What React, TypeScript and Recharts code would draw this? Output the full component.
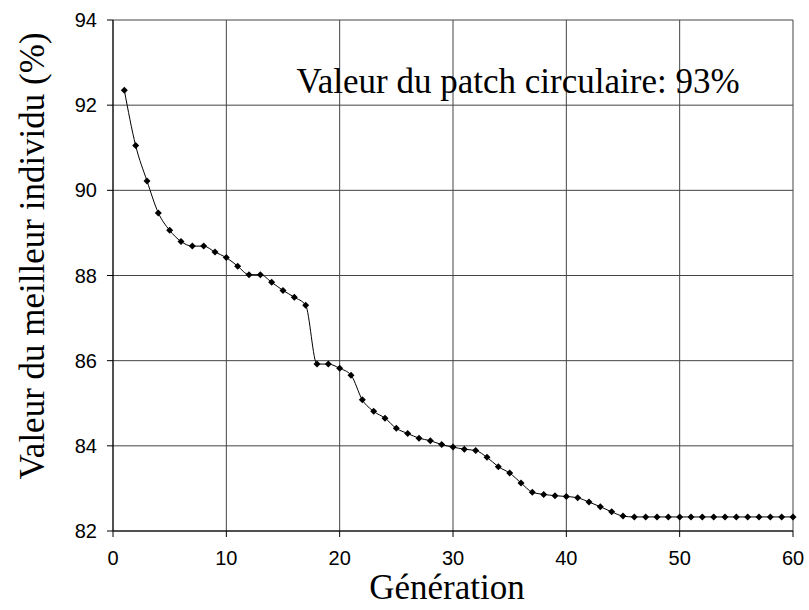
import { LineChart, Line, XAxis, YAxis, CartesianGrid, Label, Customized } from "recharts";

const generations = [
  1, 2, 3, 4, 5, 6, 7, 8, 9, 10, 11, 12, 13, 14, 15, 16, 17, 18, 19, 20,
  21, 22, 23, 24, 25, 26, 27, 28, 29, 30, 31, 32, 33, 34, 35, 36, 37, 38, 39, 40,
  41, 42, 43, 44, 45, 46, 47, 48, 49, 50, 51, 52, 53, 54, 55, 56, 57, 58, 59, 60,
];

const bestValues = [
  92.35, 91.05, 90.22, 89.47, 89.06, 88.8, 88.69, 88.69, 88.55, 88.42,
  88.22, 88.02, 88.02, 87.84, 87.65, 87.49, 87.3, 85.92, 85.92, 85.82,
  85.66, 85.08, 84.81, 84.65, 84.41, 84.29, 84.18, 84.12, 84.03, 83.97,
  83.92, 83.89, 83.73, 83.51, 83.36, 83.13, 82.91, 82.86, 82.83, 82.81,
  82.78, 82.68, 82.57, 82.45, 82.35, 82.33, 82.33, 82.33, 82.33, 82.33,
  82.33, 82.33, 82.33, 82.33, 82.33, 82.33, 82.33, 82.33, 82.33, 82.33,
];

const xTicks = [0, 10, 20, 30, 40, 50, 60];
const yTicks = [82, 84, 86, 88, 90, 92, 94];
const annotation = "Valeur du patch circulaire: 93%";

const data = generations.map((g, i) => ({ gen: g, value: bestValues[i] }));

const serif =
  "'Times New Roman', Times, Tinos, 'Liberation Serif', 'DejaVu Serif', 'Noto Serif', serif";
const tickStyle = { fontSize: 20, fill: "#000", fontFamily: "'Liberation Sans', Arial, sans-serif" };

function Diamond(props: any) {
  const { cx, cy } = props;
  if (cx == null || cy == null) return null;
  const r = 3.5;
  return (
    <path
      d={`M${cx},${cy - r} L${cx + r},${cy} L${cx},${cy + r} L${cx - r},${cy} Z`}
      fill="#000"
      stroke="none"
    />
  );
}

function Annotation() {
  return (
    <text x={518} y={93} textAnchor="middle" fontFamily={serif} fontSize={35} fill="#000">
      {annotation}
    </text>
  );
}

export default function App() {
  return (
    <div style={{ position: "absolute", left: 0, top: 0, width: 809, height: 610, background: "#fff" }}>
      <LineChart
        width={809}
        height={610}
        data={data}
        margin={{ top: 20, right: 16, bottom: 49, left: 53 }}
      >
        <CartesianGrid stroke="#444" strokeWidth={1} />
        <XAxis
          dataKey="gen"
          type="number"
          domain={[0, 60]}
          ticks={xTicks}
          height={30}
          tick={tickStyle}
          tickSize={6}
          tickMargin={14}
          axisLine={{ stroke: "#000" }}
          tickLine={{ stroke: "#000" }}
        >
          <Label
            content={() => (
              <text x={447} y={599} textAnchor="middle" fontFamily={serif} fontSize={35} fill="#000">
                Génération
              </text>
            )}
          />
        </XAxis>
        <YAxis
          type="number"
          domain={[82, 94]}
          ticks={yTicks}
          width={60}
          tick={tickStyle}
          tickSize={6}
          tickMargin={10}
          axisLine={{ stroke: "#000" }}
          tickLine={{ stroke: "#000" }}
        >
          <Label
            content={() => (
              <text
                x={44}
                y={256}
                textAnchor="middle"
                fontFamily={serif}
                fontSize={35}
                fill="#000"
                transform="rotate(-90 44 256)"
              >
                Valeur du meilleur individu (%)
              </text>
            )}
          />
        </YAxis>
        <Line
          type="monotone"
          dataKey="value"
          stroke="#000"
          strokeWidth={1}
          dot={<Diamond />}
          activeDot={false}
          isAnimationActive={false}
        />
        <Customized component={Annotation} />
      </LineChart>
    </div>
  );
}
